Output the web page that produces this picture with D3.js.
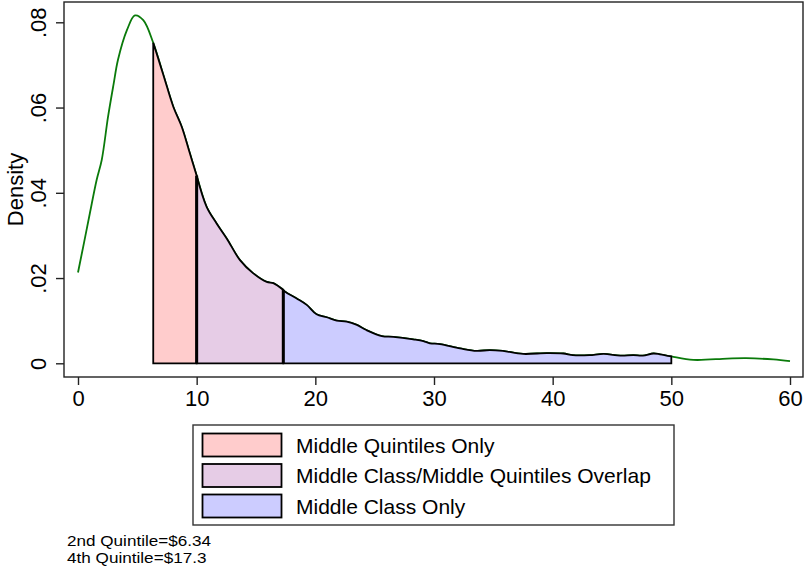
<!DOCTYPE html>
<html>
<head>
<meta charset="utf-8">
<script src="https://cdn.jsdelivr.net/npm/d3@7"></script>
<style>
  html, body { margin: 0; padding: 0; background: #fff; }
  svg { display: block; font-family: "Liberation Sans", Arial, sans-serif; }
</style>
</head>
<body>
<svg id="chart" width="805" height="571"></svg>
<script>
// ---- data ----
const incomes = [0, 0.5, 1, 1.57, 2, 2.53, 3, 3.37, 4.13, 4.8, 5.5, 6.34, 7.2, 8.03, 8.74, 9.4, 10,
  10.84, 11.68, 12.53, 13.65, 14.77, 15.9, 16.46, 17.3, 17.45, 18.43, 19.27, 20.1, 20.96, 21.8, 22.64,
  23.5, 24.3, 25.6, 26.57, 28.25, 29.1, 29.66, 30.5, 32.2, 33.6, 34.7, 35.8, 37.5, 39.5, 40.9, 41.7,
  43.1, 44.3, 45.7, 46.8, 47.6, 48.5, 49.04, 50, 51.85, 54.7, 56.3, 58.6, 60];
const density = [0.0213, 0.0282, 0.0352, 0.0430, 0.0477, 0.0578, 0.0655, 0.0712, 0.0782, 0.0816, 0.0805,
  0.0752, 0.0676, 0.0602, 0.0555, 0.0495, 0.0440,
  0.0367, 0.0328, 0.0293, 0.0242, 0.0211, 0.0191, 0.0188, 0.0172, 0.0168, 0.0152, 0.0137, 0.0115, 0.0108,
  0.0100, 0.0098, 0.0090, 0.0078, 0.0064, 0.0062, 0.0056, 0.0052, 0.0047, 0.0045, 0.0035, 0.0029, 0.0031,
  0.0029, 0.0022, 0.0024, 0.0023, 0.0019, 0.0019, 0.0022, 0.0018, 0.0019, 0.0018, 0.0023, 0.0021, 0.0016,
  0.0008, 0.0011, 0.0012, 0.0009, 0.0005];
const bands = [
  { label: "Middle Quintiles Only", from: 6.34, to: 10, color: "#ffcccc" },
  { label: "Middle Class/Middle Quintiles Overlap", from: 10, to: 17.3, color: "#e6cce6" },
  { label: "Middle Class Only", from: 17.3, to: 50, color: "#ccccff" }
];
const xTicks = [0, 10, 20, 30, 40, 50, 60];
const yTicks = [0, 0.02, 0.04, 0.06, 0.08];
const yTickLabels = ["0", ".02", ".04", ".06", ".08"];
const notes = ["2nd Quintile=$6.34", "4th Quintile=$17.3"];
const yTitle = "Density";

// ---- layout ----
const svg = d3.select("#chart");
const box = { left: 64, top: 2, right: 803, bottom: 377 };
const x = d3.scaleLinear().domain([0, 60]).range([78, 790]);
const y = d3.scaleLinear().domain([0, 0.08]).range([363.3, 22.3]);
const pts = incomes.map((v, i) => ({ x: v, d: density[i] }));

// plot box
svg.append("rect")
  .attr("x", box.left).attr("y", box.top)
  .attr("width", box.right - box.left).attr("height", box.bottom - box.top)
  .attr("fill", "none").attr("stroke", "#222").attr("stroke-width", 1.4);

// green density line
const line = d3.line().x(p => x(p.x)).y(p => y(p.d)).curve(d3.curveCatmullRom.alpha(0.5));
svg.append("path").datum(pts)
  .attr("d", line)
  .attr("fill", "none").attr("stroke", "#0a7a0a").attr("stroke-width", 1.8);

// shaded bands
const area = d3.area().x(p => x(p.x)).y0(y(0)).y1(p => y(p.d)).curve(d3.curveCatmullRom.alpha(0.5));
bands.forEach(b => {
  const seg = pts.filter(p => p.x >= b.from - 1e-9 && p.x <= b.to + 1e-9);
  svg.append("path").datum(seg)
    .attr("d", d => area(d) + "Z")
    .attr("fill", b.color).attr("stroke", "#000").attr("stroke-width", 1.8)
    .attr("stroke-linejoin", "miter");
});
// shared band edges look heavier in the reference
bands.slice(1).forEach(b => {
  const p = pts.find(q => Math.abs(q.x - b.from) < 1e-9);
  svg.append("line")
    .attr("x1", x(b.from)).attr("x2", x(b.from))
    .attr("y1", y(0)).attr("y2", y(p.d))
    .attr("stroke", "#000").attr("stroke-width", 3);
});

// axes
const xAxis = svg.append("g").attr("transform", `translate(0,${box.bottom})`)
  .call(d3.axisBottom(x).tickValues(xTicks).tickSize(8).tickPadding(5).tickFormat(d3.format("d")));
xAxis.select(".domain").remove();
xAxis.selectAll("line").attr("stroke", "#222").attr("stroke-width", 1.4);
xAxis.selectAll("text").attr("font-size", 22).attr("fill", "#000")
  .attr("font-family", "Liberation Sans, Arial, sans-serif");

const yAxis = svg.append("g").attr("transform", `translate(${box.left},0)`)
  .call(d3.axisLeft(y).tickValues(yTicks).tickSize(8).tickFormat((d, i) => yTickLabels[i]));
yAxis.select(".domain").remove();
yAxis.selectAll("line").attr("stroke", "#222").attr("stroke-width", 1.4);
yAxis.selectAll("text")
  .attr("font-size", 22).attr("fill", "#000")
  .attr("font-family", "Liberation Sans, Arial, sans-serif")
  .attr("x", null).attr("dy", null)
  .attr("text-anchor", "middle")
  .attr("transform", "translate(-18,0) rotate(-90)");

// y title
svg.append("text")
  .attr("transform", `translate(23,${(box.top + box.bottom) / 2}) rotate(-90)`)
  .attr("text-anchor", "middle").attr("font-size", 22).attr("fill", "#000")
  .text(yTitle);

// legend
const lg = svg.append("g");
lg.append("rect").attr("x", 193).attr("y", 425).attr("width", 481).attr("height", 100)
  .attr("fill", "#fff").attr("stroke", "#333").attr("stroke-width", 1.4);
bands.forEach((b, i) => {
  const ry = 433.5 + i * 30.5;
  lg.append("rect").attr("x", 202.5).attr("y", ry).attr("width", 79).attr("height", 23)
    .attr("fill", b.color).attr("stroke", "#000").attr("stroke-width", 1.8);
  lg.append("text").attr("x", 296).attr("y", ry + 19).attr("font-size", 21).attr("fill", "#000")
    .text(b.label);
});

// notes
const noteWidths = [144, 139.5];
notes.forEach((t, i) => {
  svg.append("text").attr("x", 67).attr("y", 546 + i * 16.5).attr("font-size", 15.5).attr("fill", "#000")
    .attr("textLength", noteWidths[i]).attr("lengthAdjust", "spacingAndGlyphs")
    .text(t);
});
</script>
</body>
</html>
